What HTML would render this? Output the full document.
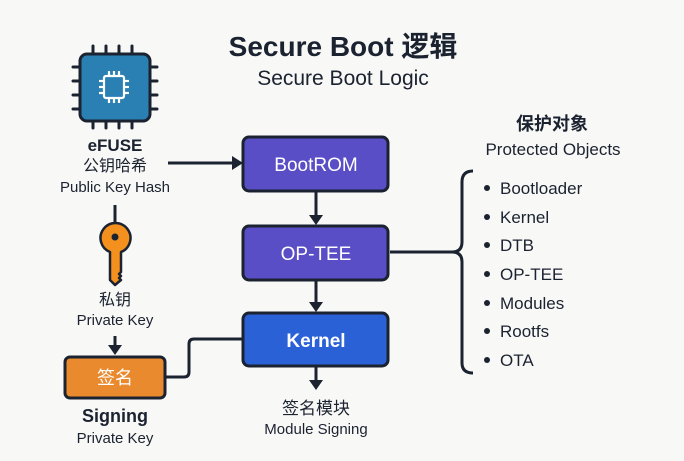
<!DOCTYPE html>
<html><head><meta charset="utf-8"><style>
body{margin:0;background:#f8f8f6;}
svg text{font-family:"Liberation Sans","Noto Sans CJK SC",sans-serif;fill:#1b2230;}
</style></head><body>
<svg width="684" height="456" viewBox="0 0 684 456" xmlns="http://www.w3.org/2000/svg">
<rect width="684" height="456" fill="#f8f8f6"/>
<text x="343" y="56" font-size="28" font-weight="bold" text-anchor="middle">Secure Boot 逻辑</text>
<text x="343" y="85" font-size="21" text-anchor="middle">Secure Boot Logic</text>

<!-- chip -->
<g stroke="#1b2230" stroke-width="3" stroke-linecap="round">
<line x1="93" y1="46" x2="93" y2="54"/><line x1="106" y1="46" x2="106" y2="54"/><line x1="119" y1="46" x2="119" y2="54"/><line x1="132" y1="46" x2="132" y2="54"/>
<line x1="93" y1="121" x2="93" y2="128"/><line x1="106" y1="121" x2="106" y2="128"/><line x1="119" y1="121" x2="119" y2="128"/><line x1="132" y1="121" x2="132" y2="128"/>
<line x1="73" y1="67" x2="80" y2="67"/><line x1="73" y1="81" x2="80" y2="81"/><line x1="73" y1="95" x2="80" y2="95"/><line x1="73" y1="109" x2="80" y2="109"/>
<line x1="150" y1="67" x2="157" y2="67"/><line x1="150" y1="81" x2="157" y2="81"/><line x1="150" y1="95" x2="157" y2="95"/><line x1="150" y1="109" x2="157" y2="109"/>
</g>
<rect x="80" y="54" width="70" height="67" rx="7" fill="#2a80b2" stroke="#1b2230" stroke-width="3"/>
<g stroke="#fff" stroke-width="2.2" fill="none">
<rect x="104" y="76" width="20" height="22" rx="2"/>
<line x1="109" y1="71" x2="109" y2="76"/><line x1="114" y1="71" x2="114" y2="76"/><line x1="119" y1="71" x2="119" y2="76"/>
<line x1="109" y1="98" x2="109" y2="103"/><line x1="114" y1="98" x2="114" y2="103"/><line x1="119" y1="98" x2="119" y2="103"/>
<line x1="99" y1="81" x2="104" y2="81"/><line x1="99" y1="87" x2="104" y2="87"/><line x1="99" y1="93" x2="104" y2="93"/>
<line x1="124" y1="81" x2="129" y2="81"/><line x1="124" y1="87" x2="129" y2="87"/><line x1="124" y1="93" x2="129" y2="93"/>
</g>
<text x="115" y="151" font-size="17" font-weight="bold" text-anchor="middle">eFUSE</text>
<text x="115" y="171" font-size="16" text-anchor="middle">公钥哈希</text>
<text x="115" y="192" font-size="15" text-anchor="middle">Public Key Hash</text>

<!-- arrows -->
<g stroke="#1b2230" stroke-width="3" fill="none">
<line x1="168" y1="163" x2="234" y2="163"/>
<line x1="316" y1="191" x2="316" y2="217"/>
<line x1="316" y1="280" x2="316" y2="304"/>
<line x1="316" y1="367" x2="316" y2="383"/>
<line x1="115" y1="205" x2="115" y2="228"/>
<line x1="115" y1="336" x2="115" y2="347"/>
<line x1="390" y1="252" x2="452" y2="252"/>
<path d="M166 377 H184 Q189 377 189 372 V344 Q189 339 194 339 H243"/>
<path d="M473 171 Q462 171 462 182 V242 Q462 252 452 252 Q462 252 462 262 V363 Q462 373 473 373"/>
</g>
<g fill="#1b2230">
<polygon points="232,156 243,163 232,170"/>
<polygon points="309,215 323,215 316,225"/>
<polygon points="309,302 323,302 316,312"/>
<polygon points="309,380 323,380 316,390"/>
<polygon points="108,345 122,345 115,355"/>
</g>

<!-- key -->
<path d="M110 252 a15 15 0 1 1 11 0 v20 l-2 2 2 2 -2 2 2 2 -6 5 -5 -5z" fill="#f4901e" stroke="#1b2230" stroke-width="2.5" stroke-linejoin="round"/>
<circle cx="115" cy="237" r="3.5" fill="#1b2230"/>
<text x="115" y="305" font-size="16" text-anchor="middle">私钥</text>
<text x="115" y="325" font-size="15" text-anchor="middle">Private Key</text>

<!-- boxes -->
<rect x="243" y="137" width="145" height="54" rx="6" fill="#5a4ec6" stroke="#1b2230" stroke-width="3"/>
<text x="316" y="171" font-size="19" text-anchor="middle" style="fill:#fff">BootROM</text>
<rect x="243" y="226" width="145" height="54" rx="6" fill="#5a4ec6" stroke="#1b2230" stroke-width="3"/>
<text x="316" y="260" font-size="19" text-anchor="middle" style="fill:#fff">OP-TEE</text>
<rect x="243" y="313" width="145" height="53" rx="6" fill="#2a61d6" stroke="#1b2230" stroke-width="3"/>
<text x="316" y="347" font-size="19" font-weight="bold" text-anchor="middle" style="fill:#fff">Kernel</text>
<rect x="65" y="357" width="100" height="41" rx="5" fill="#ea8a2e" stroke="#1b2230" stroke-width="3"/>
<text x="115" y="384" font-size="18" text-anchor="middle" style="fill:#fff">签名</text>

<text x="115" y="422" font-size="18" font-weight="bold" text-anchor="middle">Signing</text>
<text x="115" y="443" font-size="15" text-anchor="middle">Private Key</text>
<text x="316" y="414" font-size="17" text-anchor="middle">签名模块</text>
<text x="316" y="434" font-size="15" text-anchor="middle">Module Signing</text>

<text x="552" y="130" font-size="18" font-weight="bold" text-anchor="middle">保护对象</text>
<text x="553" y="155" font-size="17" text-anchor="middle">Protected Objects</text>
<g font-size="17">
<circle cx="487" cy="188" r="3" fill="#1b2230"/><text x="500" y="194">Bootloader</text>
<circle cx="487" cy="217" r="3" fill="#1b2230"/><text x="500" y="223">Kernel</text>
<circle cx="487" cy="245" r="3" fill="#1b2230"/><text x="500" y="251">DTB</text>
<circle cx="487" cy="274" r="3" fill="#1b2230"/><text x="500" y="280">OP-TEE</text>
<circle cx="487" cy="303" r="3" fill="#1b2230"/><text x="500" y="309">Modules</text>
<circle cx="487" cy="331" r="3" fill="#1b2230"/><text x="500" y="337">Rootfs</text>
<circle cx="487" cy="360" r="3" fill="#1b2230"/><text x="500" y="366">OTA</text>
</g>
</svg>
</body></html>
